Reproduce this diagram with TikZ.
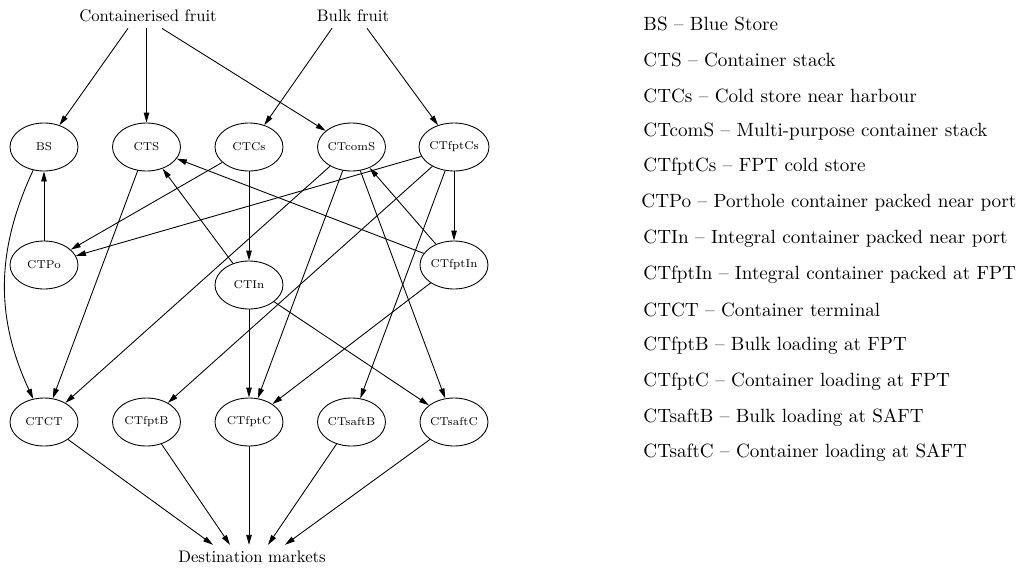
\documentclass[tikz,border=0pt]{standalone}
\usetikzlibrary{shapes.geometric, arrows.meta}

\begin{document}
\begin{tikzpicture}[node distance = 2.05cm, >={Triangle[length=2mm, width=1.1mm]}, line width = 0.5pt,
    site/.style = {draw, ellipse, minimum width = 1.36cm, minimum height = 0.96cm, inner sep = 0pt, font = \fontsize{6.5}{8}\selectfont},
    flow/.style = {font = \fontsize{9.5}{11}\selectfont},
    key/.style = {anchor = west, inner sep = 0pt, font = \fontsize{10.9}{13}\selectfont}]
      \useasboundingbox (-0.88, 2.94) rectangle (19.54, -8.46);

      % sources and sink
      \node[flow] (cf) at (2.08, 2.62) {Containerised fruit};
      \node[flow] (bf) at (6.18, 2.62) {Bulk fruit};
      \node[flow] (dm) at (4.16, -8.2) {Destination markets};

      % stores
      \node[site] (BS) {BS};
      \node[site] (CTS) [right of = BS] {CTS};
      \node[site] (CTCs) [right of = CTS] {CTCs};
      \node[site] (CTcomS) [right of = CTCs] {CTcomS};
      \node[site] (CTfptCs) [right of = CTcomS] {CTfptCs};

      % packing
      \node[site] (CTPo) [below of = BS, node distance = 2.36cm] {CTPo};
      \node[site] (CTIn) [below of = CTCs, node distance = 2.76cm] {CTIn};
      \node[site] (CTfptIn) [below of = CTfptCs, node distance = 2.36cm] {CTfptIn};

      % loading
      \node[site] (CTCT) [below of = BS, node distance = 5.5cm] {CTCT};
      \node[site] (CTfptB) [right of = CTCT] {CTfptB};
      \node[site] (CTfptC) [right of = CTfptB] {CTfptC};
      \node[site] (CTsaftB) [right of = CTfptC] {CTsaftB};
      \node[site] (CTsaftC) [right of = CTsaftB] {CTsaftC};

      \path[->] ([xshift=-0.4cm]cf.south) edge (BS);
      \path[->] (cf.south -| CTS) edge (CTS);
      \path[->] ([xshift=0.28cm]cf.south) edge (CTcomS);
      \path[->] ([xshift=-0.42cm]bf.south) edge (CTCs);
      \path[->] ([xshift=0.28cm]bf.south) edge (CTfptCs);

      \path[->] (CTCs) edge (CTPo);
      \path[->] (CTCs) edge (CTIn);
      \path[->] (CTfptCs) edge (CTPo);
      \path[->] (CTfptCs) edge (CTfptIn);
      \path[->] (CTfptCs) edge (CTfptB);
      \path[->] (CTfptCs) edge (CTsaftB);
      \path[->] (CTcomS) edge (CTCT);
      \path[->] (CTcomS) edge (CTfptC);
      \path[->] (CTcomS) edge (CTsaftC);
      \path[->] (CTfptIn) edge (CTcomS);
      \path[->] (CTfptIn) edge (CTS);
      \path[->] (CTfptIn) edge (CTfptC);
      \path[->] (CTIn) edge (CTS);
      \path[->] (CTIn) edge (CTfptC);
      \path[->] (CTIn) edge (CTsaftC);
      \path[->] (CTPo) edge (BS);
      \path[->] (BS) edge[out = -115, in = 115] (CTCT);
      \path[->] (CTS) edge (CTCT);

      \path[->] (CTCT) edge ([xshift=-0.78cm]dm.north);
      \path[->] (CTfptB) edge ([xshift=-0.44cm]dm.north);
      \path[->] (CTfptC) edge (dm.north -| CTfptC);
      \path[->] (CTsaftB) edge ([xshift=0.32cm]dm.north);
      \path[->] (CTsaftC) edge ([xshift=0.66cm]dm.north);

      % key
      \node[key] (kBS) at (11.98, 2.46) {BS -- Blue Store};
      \node[key] (kCTS) at (11.98, 1.745) {CTS -- Container stack};
      \node[key] (kCTCs) at (11.98, 1.03) {CTCs -- Cold store near harbour};
      \node[key] (kCTcomS) at (11.98, 0.315) {CTcomS -- Multi-purpose container stack};
      \node[key] (kCTfptCs) at (11.98, -0.40) {CTfptCs -- FPT cold store};
      \node[key] (kCTPo) at (11.94, -1.115) {CTPo -- Porthole container packed near port};
      \node[key] (kCTIn) at (11.98, -1.83) {CTIn -- Integral container packed near port};
      \node[key] (kCTfptIn) at (11.98, -2.545) {CTfptIn -- Integral container packed at FPT};
      \node[key] (kCTCT) at (11.98, -3.26) {CTCT -- Container terminal};
      \node[key] (kCTfptB) at (11.98, -3.975) {CTfptB -- Bulk loading at FPT};
      \node[key] (kCTfptC) at (11.98, -4.69) {CTfptC -- Container loading at FPT};
      \node[key] (kCTsaftB) at (11.98, -5.405) {CTsaftB -- Bulk loading at SAFT};
      \node[key] (kCTsaftC) at (11.98, -6.12) {CTsaftC -- Container loading at SAFT};
\end{tikzpicture}
\end{document}
